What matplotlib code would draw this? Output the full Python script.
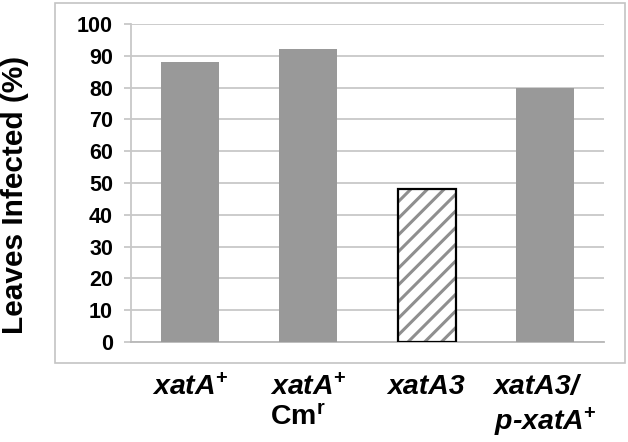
import matplotlib
matplotlib.use("Agg")
import matplotlib.pyplot as plt
from matplotlib.patches import Rectangle

plt.rcParams['font.family'] = ['Liberation Sans', 'DejaVu Sans']
plt.rcParams['mathtext.fontset'] = 'custom'
plt.rcParams['mathtext.rm'] = 'Liberation Sans:bold'
plt.rcParams['mathtext.bf'] = 'Liberation Sans:bold'
plt.rcParams['mathtext.it'] = 'Liberation Sans:bold:italic'
plt.rcParams['hatch.linewidth'] = 2.2

categories = ["xatA$^{+}$",
              "xatA$^{+}$\n$\\mathrm{Cm}^{\\mathrm{r}}$",
              "xatA3",
              "xatA3/\np-xatA$^{+}$"]
values = [88, 92, 48, 80]
hatched = [False, False, True, False]
yticks = [0, 10, 20, 30, 40, 50, 60, 70, 80, 90, 100]

fig = plt.figure(figsize=(6.28, 4.42), dpi=100)
ax = fig.add_axes([131/628, 1-342/442, (604-131)/628, (342-24)/442])

# outer frame
fig.patches.append(Rectangle((55/628, 1-363/442), (625-55)/628, (363-3)/442,
                             transform=fig.transFigure, fill=False,
                             edgecolor='#c4c4c4', linewidth=1.2, zorder=0))

x = list(range(len(categories)))
for i, (v, h) in enumerate(zip(values, hatched)):
    if h:
        ax.bar(i, v, width=0.49, color='white', edgecolor='#8f8f8f',
               hatch='//', linewidth=0, zorder=3)
        ax.bar(i, v, width=0.49, fill=False, edgecolor='black',
               linewidth=1.6, zorder=4)
    else:
        ax.bar(i, v, width=0.49, color='#999999', linewidth=0, zorder=3)

ax.set_xlim(-0.5, 3.5)
ax.set_ylim(0, 100)
ax.set_yticks(yticks)
ax.set_yticklabels([str(t) for t in yticks], fontsize=15.5, fontweight='bold')
ax.yaxis.grid(True, color='#c8c8c8', linewidth=1.3, zorder=0)
ax.set_axisbelow(True)
ax.tick_params(axis='y', length=5, width=1.3, color='#c8c8c8', pad=8)
ax.set_xticks(x)
ax.set_xticklabels(categories, fontsize=20.5, fontweight='bold',
                   fontstyle='italic', linespacing=1.22)
for lbl in ax.get_xticklabels():
    lbl.set_multialignment('left')
ax.tick_params(axis='x', length=0, pad=23)

for s in ['top', 'right']:
    ax.spines[s].set_visible(False)
ax.spines['left'].set_color('#c8c8c8')
ax.spines['left'].set_linewidth(1.3)
ax.spines['bottom'].set_color('#b8b8b8')
ax.spines['bottom'].set_linewidth(1.3)

fig.text(15/628, 1-195/442, 'Leaves Infected (%)', rotation=90,
         fontsize=21.5, fontweight='bold', ha='center', va='center')

fig.savefig('out.png', dpi=100)
